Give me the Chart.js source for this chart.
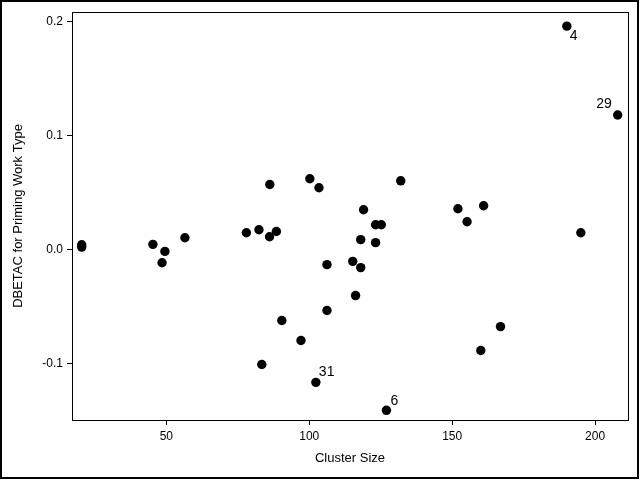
<!DOCTYPE html>
<html>
<head>
<meta charset="utf-8">
<script src="https://cdn.jsdelivr.net/npm/chart.js@4/dist/chart.umd.min.js"></script>
<style>
  html, body { margin: 0; padding: 0; background: #fff; }
  #wrap { width: 640px; height: 480px; }
</style>
</head>
<body>
<div id="wrap"><canvas id="dbetaChart" width="640" height="480"></canvas></div>
<script>
// values
var clusterSize = [20.4, 20.4, 45.3, 49.5, 48.5, 56.5, 78, 82.4, 86.1, 88.5, 86.2, 100.2, 103.4, 132,
  119, 123.2, 125.2, 118, 123.2, 106.2, 115.2, 118, 152, 161, 155.2, 195, 116.2, 106.2, 90.4, 97.1,
  83.4, 102.3, 127, 166.9, 160, 190.1, 207.9];
var dbetac = [0.004, 0.002, 0.0044, -0.0018, -0.0117, 0.0102, 0.0146, 0.0172, 0.0111, 0.0157, 0.0569,
  0.0619, 0.054, 0.0601, 0.0347, 0.0216, 0.0216, 0.0085, 0.0059, -0.0134, -0.0105, -0.016, 0.0356,
  0.0382, 0.0242, 0.0146, -0.0405, -0.0536, -0.0624, -0.0799, -0.1009, -0.1166, -0.1411, -0.0677,
  -0.0887, 0.1957, 0.1178];
// observation ids shown next to the influential points
var obsIds = ['', '', '', '', '', '', '', '', '', '', '', '', '', '', '', '', '', '', '', '', '', '',
  '', '', '', '', '', '', '', '', '', '31', '6', '', '', '4', '29'];
var xTicks = [50, 100, 150, 200];
var yTicks = [-0.1, 0.0, 0.1, 0.2];

var points = clusterSize.map(function (x, i) { return { x: x, y: dbetac[i] }; });

var fontFamily = '"Liberation Sans", Arial, sans-serif';

// where each id sits relative to its dot
var idPlacement = {
  '4':  { dx: 3,  dy: 14, align: 'left' },
  '29': { dx: -6, dy: -7, align: 'right' },
  '31': { dx: 3,  dy: -6, align: 'left' },
  '6':  { dx: 4,  dy: -5, align: 'left' }
};

var framePlugin = {
  id: 'frame',
  afterDraw: function (chart) {
    var c = chart.ctx, a = chart.chartArea;
    c.save();
    c.strokeStyle = '#000';
    c.lineWidth = 1;
    c.strokeRect(Math.round(a.left) + 0.5, Math.round(a.top) + 0.5,
      Math.round(a.right - a.left), Math.round(a.bottom - a.top));
    c.lineWidth = 2;
    c.strokeRect(1, 1, chart.width - 3, chart.height - 3);

    // point ids
    var xs = chart.scales.x, ys = chart.scales.y;
    c.fillStyle = '#000';
    c.font = '14px ' + fontFamily;
    c.textBaseline = 'alphabetic';
    obsIds.forEach(function (id, i) {
      if (!id) return;
      var p = idPlacement[id];
      var px = xs.getPixelForValue(clusterSize[i]);
      var py = ys.getPixelForValue(dbetac[i]);
      c.textAlign = p.align;
      c.fillText(id, px + p.dx, py + p.dy);
    });
    c.restore();
  }
};

var ctx = document.getElementById('dbetaChart').getContext('2d');
var dbetaChart = new Chart(ctx, {
  type: 'scatter',
  data: {
    datasets: [{
      label: 'DBETAC',
      data: points,
      backgroundColor: '#000',
      borderColor: '#000',
      borderWidth: 0,
      pointRadius: 4.7,
      pointHoverRadius: 4.7
    }]
  },
  options: {
    responsive: false,
    animation: false,
    events: [],
    layout: { padding: { top: 12, right: 12, left: 0, bottom: 0 } },
    plugins: {
      legend: { display: false },
      tooltip: { enabled: false }
    },
    scales: {
      x: {
        type: 'linear',
        min: 17,
        max: 211.5,
        afterBuildTicks: function (s) { s.ticks = xTicks.map(function (v) { return { value: v }; }); },
        afterFit: function (s) { s.height = 60; },
        grid: { display: true, drawOnChartArea: false, drawTicks: true, tickLength: 5, tickColor: '#000', color: '#000' },
        border: { display: true, color: '#000', width: 1 },
        ticks: {
          color: '#000',
          padding: 4,
          maxRotation: 0,
          font: { family: fontFamily, size: 12 },
          callback: function (v) { return v; }
        },
        title: {
          display: true,
          text: 'Cluster Size',
          color: '#000',
          font: { family: fontFamily, size: 13 },
          padding: { top: 0, bottom: 14 }
        }
      },
      y: {
        type: 'linear',
        min: -0.1496,
        max: 0.2081,
        afterBuildTicks: function (s) { s.ticks = yTicks.map(function (v) { return { value: v }; }); },
        afterFit: function (s) { s.width = 72; },
        grid: { display: true, drawOnChartArea: false, drawTicks: true, tickLength: 5, tickColor: '#000', color: '#000' },
        border: { display: true, color: '#000', width: 1 },
        ticks: {
          color: '#000',
          padding: 4,
          font: { family: fontFamily, size: 12 },
          callback: function (v) { return Number(v).toFixed(1); }
        },
        title: {
          display: true,
          text: 'DBETAC for Priming Work Type',
          color: '#000',
          font: { family: fontFamily, size: 13 },
          padding: { top: 11, bottom: 0 }
        }
      }
    }
  },
  plugins: [framePlugin]
});
</script>
</body>
</html>
